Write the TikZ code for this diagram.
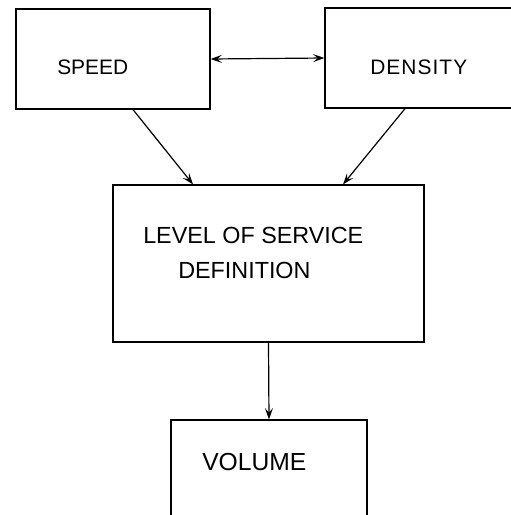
\documentclass[tikz,border=0pt]{standalone}
\usepackage{fontspec}
\setsansfont{Liberation Sans}
\newfontfamily\spacedsans[LetterSpace=5]{Liberation Sans}
\usepackage{tikz}
\usetikzlibrary{arrows.meta}

\tikzset{
  blockbox/.style={draw, line width=0.9pt, inner sep=0pt},
  lettering/.style={inner sep=0pt, anchor=west},
  link/.style={line width=0.9pt, -{Stealth[length=8.5pt, width=6pt, inset=3.5pt]}},
  twoway/.style={line width=0.9pt, {Stealth[length=8.5pt, width=6pt, inset=3.5pt]}-{Stealth[length=8.5pt, width=6pt, inset=3.5pt]}}
}
\newcommand{\smallletters}{\sffamily\fontsize{15.7}{19}\selectfont}
\newcommand{\spacedletters}{\spacedsans\fontsize{15.7}{19}\selectfont}
\newcommand{\midletters}{\sffamily\fontsize{17.5}{21}\selectfont}
\newcommand{\bigletters}{\sffamily\fontsize{18.5}{22}\selectfont}

\begin{document}
\begin{tikzpicture}[x=0.75pt,y=0.75pt,yscale=-1,xscale=1]
\useasboundingbox (0,0) rectangle (511,515);
\clip (0,0) rectangle (511,515);

%Boxes
\node [blockbox, minimum width=145.5pt, minimum height=75pt] (speed) at (113,59) {};
\node [blockbox, minimum width=161.25pt, minimum height=75pt] (density) at (432.5,58) {};
\node [blockbox, minimum width=233.25pt, minimum height=117.75pt] (level) at (268.5,263.5) {};
\node [blockbox, minimum width=147pt, minimum height=105pt] (volume) at (269,490) {};

% Text Node
\node [lettering, font=\smallletters] (speedtxt) at (57,67.5) {SPEED};
% Text Node
\node [lettering, font=\spacedletters] (densitytxt) at (370,67.5) {DENSITY};
% Text Node
\node [lettering, font=\midletters] (leveltxt) at (143,235) {LEVEL OF SERVICE};
% Text Node
\node [lettering, font=\midletters] (definitiontxt) at (178,270.5) {DEFINITION};
% Text Node
\node [lettering, font=\bigletters] (volumetxt) at (202,462.5) {VOLUME};

%Straight Lines
\draw [twoway] (speed.east) -- (density.west);
\draw [link] ([xshift=15pt]speed.south) -- ([xshift=-56.6pt]level.north);
\draw [link] ([xshift=-20.6pt]density.south) -- ([xshift=55.9pt]level.north);
\draw [link] (level.south) -- (volume.north);

\end{tikzpicture}
\end{document}
